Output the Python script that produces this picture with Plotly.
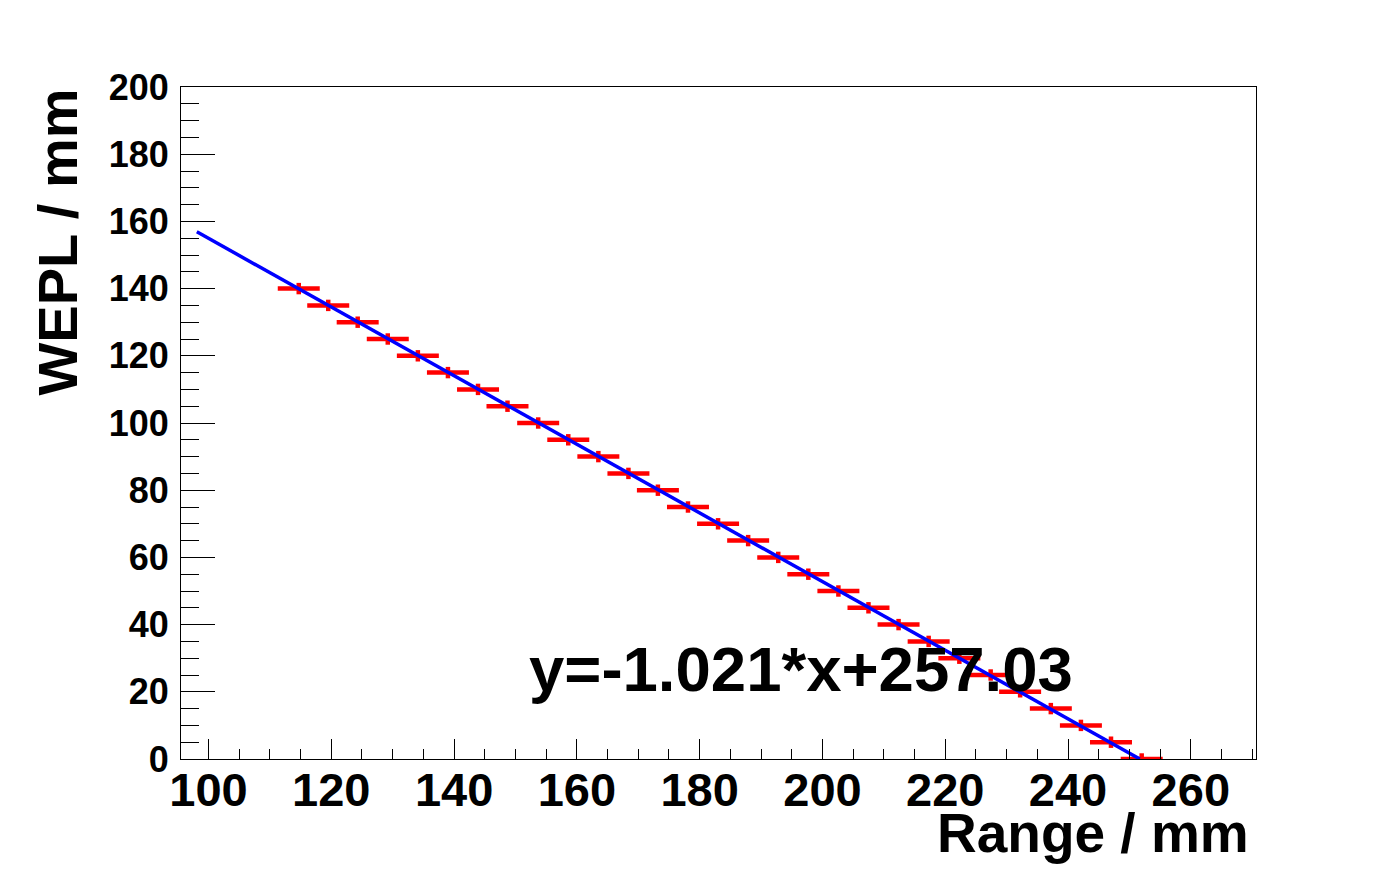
import plotly.graph_objects as go

# Measured data points (WEPL vs Range)
wepl = [140, 135, 130, 125, 120, 115, 110, 105, 100, 95, 90, 85, 80, 75, 70,
        65, 60, 55, 50, 45, 40, 35, 30, 25, 20, 15, 10, 5, 0]
range_mm = [114.7, 119.5, 124.3, 129.2, 134.1, 139.0, 143.9, 148.7, 153.7, 158.6,
            163.5, 168.4, 173.2, 178.1, 183.0, 187.9, 192.8, 197.7, 202.6, 207.5,
            212.4, 217.3, 222.3, 227.4, 232.2, 237.2, 242.1, 247.0, 252.0]
range_err = [3.42] * len(wepl)
wepl_err = [1.7] * len(wepl)

# Fit line end points
fit_x = [98.1, 251.7]
fit_y = [156.9, 0.0]
fit_label = "y=-1.021*x+257.03"

x_range = [95.52, 270.62]
y_range = [0, 200]

FONT = "Liberation Sans"

fig = go.Figure()
fig.add_trace(go.Scatter(
    x=range_mm, y=wepl, mode="markers",
    marker=dict(size=1, color="#ff0000"),
    error_x=dict(type="data", array=range_err, color="#ff0000", thickness=4.5, width=0),
    error_y=dict(type="data", array=wepl_err, color="#ff0000", thickness=4.5, width=0),
    showlegend=False, cliponaxis=False,
))
fig.add_trace(go.Scatter(
    x=fit_x, y=fit_y, mode="lines",
    line=dict(color="#0000ff", width=3.5),
    showlegend=False,
))

# page body has an 8px margin; figure is sized to fit inside the window
OFF = 8
W, H = 1396 - 2 * OFF, 872 - 2 * OFF
L = 181 - OFF
T = 87 - OFF
R = W - (1256 - OFF)
B = H - (759 - OFF)
pw, ph = W - L - R, H - T - B

def px2paper_x(px):
    return (px - OFF - L) / pw

def px2paper_y(py):
    return (H - B - (py - OFF)) / ph

fig.update_layout(
    width=W, height=H,
    margin=dict(l=L, r=R, t=T, b=B, pad=0),
    paper_bgcolor="white", plot_bgcolor="white",
    font=dict(family=FONT, color="black"),
    xaxis=dict(
        range=x_range, tick0=0, dtick=20, ticks="inside", ticklen=20, tickwidth=1,
        tickcolor="black", showline=True, linecolor="black", linewidth=1, mirror=True,
        showgrid=False, zeroline=False, ticklabelstandoff=-10,
        tickfont=dict(family=FONT, size=47, color="black", weight="bold"),
        minor=dict(ticks="inside", ticklen=10, dtick=5, tick0=0, tickcolor="black", showgrid=False),
    ),
    yaxis=dict(
        range=y_range, tick0=0, dtick=20, ticks="inside", ticklen=34, tickwidth=1,
        tickcolor="black", showline=True, linecolor="black", linewidth=1, mirror=True,
        showgrid=False, zeroline=False, ticklabelstandoff=4,
        tickfont=dict(family=FONT, size=36, color="black", weight="bold"),
        minor=dict(ticks="inside", ticklen=18, dtick=5, tick0=0, tickcolor="black", showgrid=False),
    ),
    annotations=[
        dict(text="Range / mm", xref="paper", yref="paper",
             x=px2paper_x(1251), y=px2paper_y(832.7), xanchor="right", yanchor="middle",
             showarrow=False, font=dict(family=FONT, size=55, color="black", weight="bold")),
        dict(text="WEPL / mm", xref="paper", yref="paper", textangle=-90,
             x=px2paper_x(57), y=px2paper_y(242.5), xanchor="center", yanchor="middle",
             showarrow=False, font=dict(family=FONT, size=56, color="black", weight="bold")),
        dict(text=fit_label, xref="paper", yref="paper",
             x=px2paper_x(527), y=px2paper_y(668.7), xanchor="left", yanchor="middle",
             showarrow=False, font=dict(family=FONT, size=63.5, color="black", weight="bold")),
    ],
)

fig.write_html("out.html")
